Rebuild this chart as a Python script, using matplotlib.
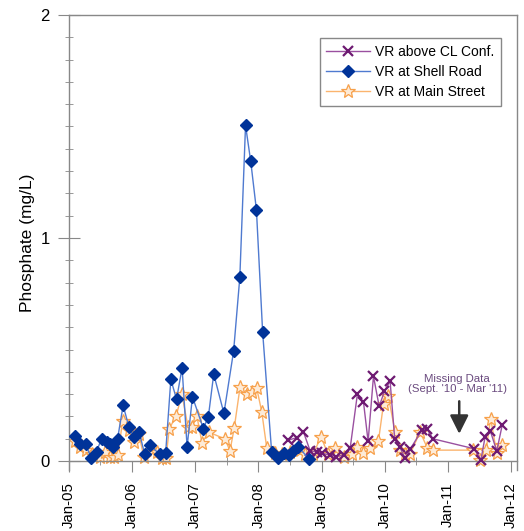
import matplotlib
matplotlib.use("Agg")
import matplotlib.pyplot as plt
import matplotlib.dates as mdates
import pandas as pd

plt.rcParams['font.family'] = ['Liberation Sans', 'DejaVu Sans']

# --- Data -------------------------------------------------------------
cl_dates = ["2008-06-23", "2008-08-11", "2008-09-18", "2008-10-27", "2008-12-04",
            "2009-01-02", "2009-02-19", "2009-03-26", "2009-05-08", "2009-06-15",
            "2009-07-27", "2009-08-31", "2009-09-27", "2009-10-28", "2009-11-30",
            "2009-12-30", "2010-02-01", "2010-02-28", "2010-03-29", "2010-04-29",
            "2010-05-29", "2010-08-04", "2010-09-04", "2010-10-06", "2011-06-04",
            "2011-07-11", "2011-08-05", "2011-09-04", "2011-10-11", "2011-11-12"]
cl_values = [0.094, 0.105, 0.131, 0.045, 0.042,
             0.035, 0.027, 0.020, 0.027, 0.057,
             0.300, 0.266, 0.088, 0.380, 0.245,
             0.312, 0.360, 0.097, 0.064, 0.012,
             0.054, 0.139, 0.143, 0.100, 0.055,
             0.004, 0.110, 0.135, 0.045, 0.163]

shell_dates = ["2005-02-05", "2005-03-05", "2005-04-08", "2005-05-10", "2005-06-09",
               "2005-07-08", "2005-08-07", "2005-08-26", "2005-09-10", "2005-10-09",
               "2005-11-10", "2005-12-13", "2006-01-12", "2006-02-11", "2006-03-15",
               "2006-04-13", "2006-06-10", "2006-07-14", "2006-08-13", "2006-09-15",
               "2006-10-17", "2006-11-15", "2006-12-16", "2007-02-17", "2007-03-18",
               "2007-04-18", "2007-06-16", "2007-08-11", "2007-09-16", "2007-10-19",
               "2007-11-18", "2007-12-21", "2008-01-26", "2008-03-18", "2008-04-26",
               "2008-05-26", "2008-06-24", "2008-07-21", "2008-08-19", "2008-10-22"]
shell_values = [0.113, 0.076, 0.075, 0.012, 0.042,
                0.100, 0.087, 0.075, 0.061, 0.100,
                0.250, 0.154, 0.106, 0.130, 0.030,
                0.072, 0.030, 0.037, 0.366, 0.277,
                0.418, 0.064, 0.288, 0.146, 0.199,
                0.390, 0.214, 0.493, 0.824, 1.505,
                1.344, 1.126, 0.577, 0.042, 0.015,
                0.037, 0.027, 0.046, 0.064, 0.008]

main_dates = ["2005-02-04", "2005-03-07", "2005-04-09", "2005-05-12", "2005-07-01",
              "2005-07-30", "2005-08-28", "2005-09-16", "2005-10-11", "2005-11-07",
              "2005-12-13", "2006-01-10", "2006-02-10", "2006-03-09", "2006-04-26",
              "2006-05-25", "2006-06-23", "2006-07-16", "2006-08-04", "2006-09-12",
              "2006-10-16", "2006-11-20", "2006-12-13", "2007-01-11", "2007-02-09",
              "2007-03-20", "2007-06-22", "2007-07-21", "2007-08-15", "2007-09-17",
              "2007-10-26", "2007-11-24", "2007-12-23", "2008-01-21", "2008-02-19",
              "2008-04-07", "2008-05-17", "2008-07-03", "2008-08-30", "2008-09-28",
              "2008-11-13", "2008-12-28", "2009-02-08", "2009-03-20", "2009-05-08",
              "2009-06-25", "2009-07-24", "2009-08-31", "2009-10-09", "2009-11-26",
              "2009-12-25", "2010-01-22", "2010-03-02", "2010-03-31", "2010-04-29",
              "2010-05-27", "2010-07-25", "2010-09-05", "2010-10-09", "2011-05-28",
              "2011-07-06", "2011-08-10", "2011-09-06", "2011-10-11", "2011-11-12"]
main_values = [0.090, 0.061, 0.050, 0.030, 0.020,
               0.042, 0.020, 0.020, 0.027, 0.180,
               0.140, 0.087, 0.120, 0.020, 0.050,
               0.040, 0.013, 0.013, 0.146, 0.200,
               0.300, 0.154, 0.154, 0.200, 0.082,
               0.130, 0.099, 0.046, 0.150, 0.330,
               0.300, 0.310, 0.326, 0.220, 0.057,
               0.034, 0.030, 0.040, 0.050, 0.030,
               0.030, 0.109, 0.030, 0.057, 0.020,
               0.030, 0.064, 0.034, 0.057, 0.091,
               0.256, 0.290, 0.131, 0.049, 0.030,
               0.030, 0.131, 0.057, 0.049, 0.049,
               0.004, 0.050, 0.190, 0.035, 0.072]

series_labels = ["VR above CL Conf.", "VR at Shell Road", "VR at Main Street"]
y_label = "Phosphate (mg/L)"
note_text = "Missing Data\n(Sept. '10 - Mar '11)"
note_date = "2011-02-24"
note_y = 0.30
arrow_date = "2011-03-08"
arrow_from, arrow_to = 0.268, 0.122

# --- Figure -----------------------------------------------------------
fig = plt.figure(figsize=(5.24, 5.31), dpi=100)
ax = fig.add_axes([0.1317, 0.1149, 0.8549, 0.8569])

ax.plot(pd.to_datetime(cl_dates), cl_values, color='#9a50a0', lw=1.0,
        marker='x', ms=7, mew=1.6, mec='#6e1a72', label=series_labels[0], zorder=3)
ax.plot(pd.to_datetime(shell_dates), shell_values, color='#4f7ad0', lw=1.0,
        marker='D', ms=6.5, mec='#003399', mfc='#003399', label=series_labels[1], zorder=4)
ax.plot(pd.to_datetime(main_dates), main_values, color='#fbb46e', lw=1.0,
        marker='*', ms=10, mec='#f7a04a', mfc='#fdebd8', mew=0.9,
        label=series_labels[2], zorder=2)

ax.set_xlim(pd.Timestamp("2005-01-01"), pd.Timestamp("2012-02-05"))
ax.set_ylim(-0.04, 2)

ax.xaxis.set_major_locator(mdates.YearLocator())
ax.xaxis.set_minor_locator(mdates.MonthLocator(bymonth=7))
ax.xaxis.set_major_formatter(mdates.DateFormatter('%b-%y'))
ax.set_yticks([0, 1, 2])
ax.set_yticks([i / 10 for i in range(21)], minor=True)

gray = '#888888'
for s in ['left', 'right', 'top', 'bottom']:
    ax.spines[s].set_color(gray)
    ax.spines[s].set_linewidth(1.0)
ax.spines['bottom'].set_position(('data', 0))

ax.tick_params(axis='y', which='major', direction='inout', length=16, color=gray,
               labelsize=12, pad=6)
ax.tick_params(axis='y', which='minor', direction='inout', length=6, color=gray)
ax.tick_params(axis='x', which='major', direction='out', length=8, color=gray,
               labelsize=10.8, labelrotation=90, pad=7)
ax.tick_params(axis='x', which='minor', direction='inout', length=6, color=gray)

ax.set_ylabel(y_label, fontsize=12.5, labelpad=4)

leg = ax.legend(loc='upper right', bbox_to_anchor=(0.965, 0.95), fontsize=10,
                frameon=True, fancybox=False, edgecolor=gray, framealpha=1,
                handlelength=3.1, handletextpad=0.4, borderpad=0.5,
                labelspacing=0.45, borderaxespad=0)
leg.get_frame().set_linewidth(1.0)

ax.text(pd.Timestamp(note_date), note_y, note_text, ha='center', va='bottom',
        fontsize=8.2, color='#6a4a7e', linespacing=1.05,
        family=['Liberation Sans Narrow', 'Liberation Sans', 'DejaVu Sans'])
ax.annotate('', xy=(pd.Timestamp(arrow_date), arrow_to),
            xytext=(pd.Timestamp(arrow_date), arrow_from),
            arrowprops=dict(arrowstyle='-|>,head_length=0.7,head_width=0.35',
                            color='#333333', lw=1.8, mutation_scale=16,
                            shrinkA=0, shrinkB=0))

fig.savefig('out.png', dpi=100)
